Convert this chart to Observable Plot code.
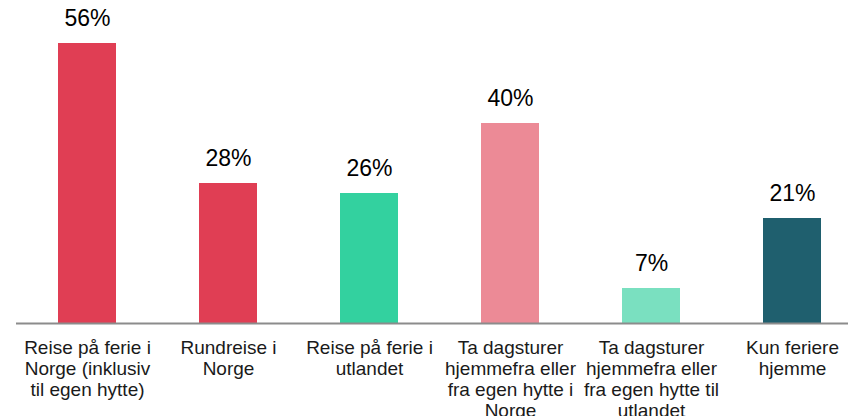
<!DOCTYPE html>
<html>
<head>
<meta charset="utf-8">
<script src="https://cdn.jsdelivr.net/npm/d3@7"></script>
<script src="https://cdn.jsdelivr.net/npm/@observablehq/plot@0.6"></script>
<style>
  html, body { margin: 0; padding: 0; background: #fff; }
  #chart svg { display: block; }
</style>
</head>
<body>
<div id="chart"></div>
<script>
const categories = [
  "Reise på ferie i\nNorge (inklusiv\ntil egen hytte)",
  "Rundreise i\nNorge",
  "Reise på ferie i\nutlandet",
  "Ta dagsturer\nhjemmefra eller\nfra egen hytte i\nNorge",
  "Ta dagsturer\nhjemmefra eller\nfra egen hytte til\nutlandet",
  "Kun feriere\nhjemme"
];
const values = [56, 28, 26, 40, 7, 21];
const colors = ["#E03E54", "#E03E54", "#33D19F", "#EC8A96", "#7AE0C0", "#1F5F6E"];

const data = categories.map((c, i) => ({category: c, value: values[i], color: colors[i]}));

const chart = Plot.plot({
  width: 848,
  height: 416,
  marginLeft: 16,
  marginRight: 0,
  marginTop: 43,
  marginBottom: 93,
  style: {fontFamily: "'Liberation Sans', Arial, sans-serif", background: "#fff"},
  x: {domain: categories, range: [15.4, 862.6], paddingInner: 0.59, paddingOuter: 0.295, axis: null},
  y: {domain: [0, 56], nice: false, axis: null},
  marks: [
    Plot.barY(data, {x: "category", y: "value", fill: "color"}),
    Plot.ruleY([0], {stroke: "#8c8c8c", strokeWidth: 2}),
    Plot.text(data, {x: "category", y: "value", text: d => d.value + "%", lineAnchor: "bottom", dy: -18, fontSize: 23, fill: "#000"}),
    Plot.text(data, {x: "category", y: () => 0, text: "category", lineAnchor: "top", dy: 15, fontSize: 19, lineHeight: 1.12, fill: "#1a1a1a"})
  ]
});
document.getElementById("chart").appendChild(chart);
</script>
</body>
</html>
